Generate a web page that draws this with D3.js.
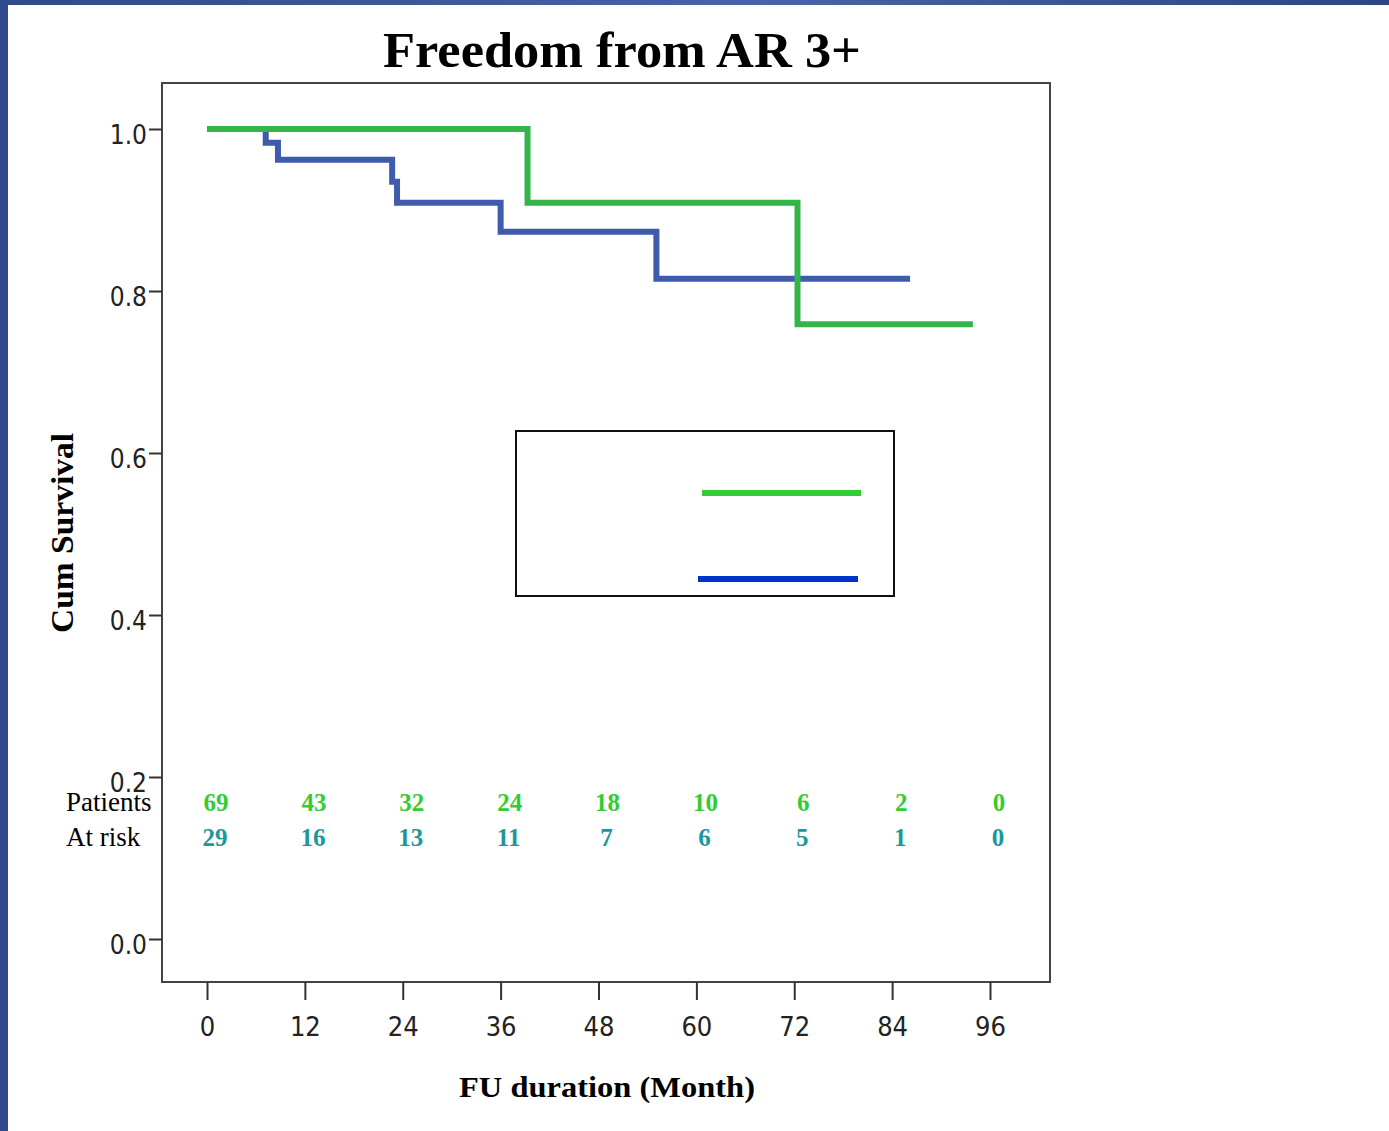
<!DOCTYPE html>
<html>
<head>
<script src="https://cdn.jsdelivr.net/npm/d3@7"></script>
<style>
  body { margin: 0; background: #fff; }
  svg { display: block; }
</style>
</head>
<body>
<div id="chart"></div>
<script>
// data
var xTicks = [0, 12, 24, 36, 48, 60, 72, 84, 96];
var yTicks = [0.0, 0.2, 0.4, 0.6, 0.8, 1.0];

// Kaplan-Meier steps: [month, survival after that month]
var greenSteps = [[0, 1.0], [39.3, 0.909], [72.4, 0.759], [93.9, 0.759]];
var blueSteps = [[0, 1.0], [7.2, 0.983], [8.7, 0.962], [22.7, 0.935], [23.3, 0.909],
                 [36.0, 0.873], [55.1, 0.815], [86.2, 0.815]];

var riskPatients = [69, 43, 32, 24, 18, 10, 6, 2, 0];
var riskAtRisk = [29, 16, 13, 11, 7, 6, 5, 1, 0];

var W = 1389, H = 1131;
var svg = d3.select("#chart").append("svg")
    .attr("width", W)
    .attr("height", H);

// slide background strips
var grad = svg.append("defs").append("linearGradient")
    .attr("id", "bg").attr("x1", "0").attr("x2", "1").attr("y1", "0").attr("y2", "0");
grad.append("stop").attr("offset", "0").attr("stop-color", "#2f4b8c");
grad.append("stop").attr("offset", "0.55").attr("stop-color", "#4863a8");
grad.append("stop").attr("offset", "1").attr("stop-color", "#2e4582");
svg.append("rect").attr("width", W).attr("height", H).attr("fill", "url(#bg)");
svg.append("rect").attr("x", 8).attr("y", 5).attr("width", W - 8).attr("height", H - 5).attr("fill", "#fff");

var frame = { left: 162, top: 83, right: 1050, bottom: 982 };

var x = d3.scaleLinear().domain([0, 96]).range([207, 990]);
var y = d3.scaleLinear().domain([0, 1]).range([939, 129]);

// title
svg.append("text")
    .attr("x", 622).attr("y", 67)
    .attr("text-anchor", "middle")
    .attr("font-family", "Liberation Serif, serif")
    .attr("font-weight", "bold")
    .attr("font-size", 50)
    .attr("textLength", 478)
    .attr("lengthAdjust", "spacingAndGlyphs")
    .text("Freedom from AR 3+");

// frame
svg.append("rect")
    .attr("x", frame.left).attr("y", frame.top)
    .attr("width", frame.right - frame.left)
    .attr("height", frame.bottom - frame.top)
    .attr("fill", "none")
    .attr("stroke", "#444")
    .attr("stroke-width", 2);

var tickFont = "DejaVu Sans Condensed, Liberation Sans Narrow, sans-serif";

// y axis
var yAxis = svg.append("g")
    .attr("transform", "translate(" + frame.left + ",0)")
    .call(d3.axisLeft(y).tickValues(yTicks).tickFormat(d3.format(".1f")).tickSize(13).tickPadding(2));
yAxis.select(".domain").remove();
yAxis.selectAll(".tick line").attr("stroke", "#333").attr("stroke-width", 2);
yAxis.selectAll(".tick text")
    .attr("font-family", tickFont)
    .attr("font-size", 26)
    .attr("fill", "#222")
    .attr("dy", "0.55em");

// x axis
var xAxis = svg.append("g")
    .attr("transform", "translate(0," + frame.bottom + ")")
    .call(d3.axisBottom(x).tickValues(xTicks).tickSize(18).tickPadding(17));
xAxis.select(".domain").remove();
xAxis.selectAll(".tick line").attr("stroke", "#333").attr("stroke-width", 2);
xAxis.selectAll(".tick text")
    .attr("font-family", tickFont)
    .attr("font-size", 27)
    .attr("fill", "#222");

// axis titles
svg.append("text")
    .attr("x", 607).attr("y", 1097)
    .attr("text-anchor", "middle")
    .attr("font-family", "Liberation Serif, serif")
    .attr("font-weight", "bold")
    .attr("font-size", 29)
    .attr("textLength", 296)
    .attr("lengthAdjust", "spacingAndGlyphs")
    .text("FU duration (Month)");

svg.append("text")
    .attr("transform", "translate(73,533) rotate(-90)")
    .attr("text-anchor", "middle")
    .attr("font-family", "Liberation Serif, serif")
    .attr("font-weight", "bold")
    .attr("font-size", 32)
    .attr("textLength", 200)
    .attr("lengthAdjust", "spacingAndGlyphs")
    .text("Cum Survival");

// survival curves (green drawn over blue)
var line = d3.line()
    .x(function(d) { return x(d[0]); })
    .y(function(d) { return y(d[1]); })
    .curve(d3.curveStepAfter);

svg.append("path")
    .datum(blueSteps)
    .attr("d", line)
    .attr("fill", "none")
    .attr("stroke", "#3f5bac")
    .attr("stroke-width", 6);

svg.append("path")
    .datum(greenSteps)
    .attr("d", line)
    .attr("fill", "none")
    .attr("stroke", "#33b54a")
    .attr("stroke-width", 6);

// legend box
svg.append("rect")
    .attr("x", 516).attr("y", 431)
    .attr("width", 378).attr("height", 165)
    .attr("fill", "#fff")
    .attr("stroke", "#111")
    .attr("stroke-width", 2);
svg.append("line")
    .attr("x1", 702).attr("x2", 861).attr("y1", 493).attr("y2", 493)
    .attr("stroke", "#33cc33").attr("stroke-width", 6);
svg.append("line")
    .attr("x1", 698).attr("x2", 858).attr("y1", 579).attr("y2", 579)
    .attr("stroke", "#0033cc").attr("stroke-width", 6);

// numbers at risk
var riskFont = "Liberation Serif, serif";
svg.append("text")
    .attr("x", 66).attr("y", 811)
    .attr("font-family", riskFont).attr("font-size", 27).attr("fill", "#000")
    .text("Patients");
svg.append("text")
    .attr("x", 66).attr("y", 846)
    .attr("font-family", riskFont).attr("font-size", 27).attr("fill", "#000")
    .text("At risk");

svg.selectAll(".risk1")
    .data(riskPatients)
    .enter().append("text")
    .attr("class", "risk1")
    .attr("x", function(d, i) { return x(xTicks[i]) + 9; })
    .attr("y", 811)
    .attr("text-anchor", "middle")
    .attr("font-family", riskFont).attr("font-weight", "bold").attr("font-size", 25)
    .attr("fill", "#33cc33")
    .text(function(d) { return d; });

svg.selectAll(".risk2")
    .data(riskAtRisk)
    .enter().append("text")
    .attr("class", "risk2")
    .attr("x", function(d, i) { return x(xTicks[i]) + 8; })
    .attr("y", 846)
    .attr("text-anchor", "middle")
    .attr("font-family", riskFont).attr("font-weight", "bold").attr("font-size", 25)
    .attr("fill", "#1a9999")
    .text(function(d) { return d; });
</script>
</body>
</html>
